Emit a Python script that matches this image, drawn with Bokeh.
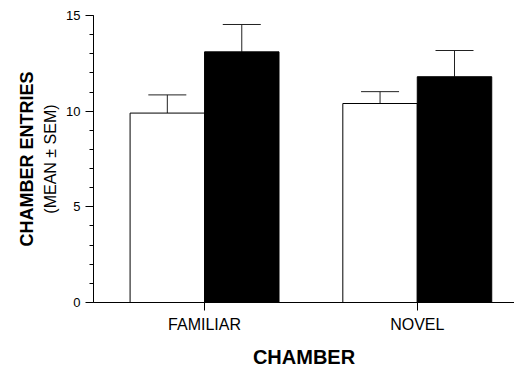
from bokeh.plotting import figure
from bokeh.models import (Range1d, SingleIntervalTicker, FixedTicker, LinearAxis,
                          ColumnDataSource, Whisker, TeeHead)
from bokeh.embed import file_html
from bokeh.resources import INLINE

# ---- data ----
categories = ["FAMILIAR", "NOVEL"]
control_mean = [9.9, 10.4]
control_sem = [0.95, 0.62]
treated_mean = [13.1, 11.8]
treated_sem = [1.43, 1.37]

FONT = "Liberation Sans"
BAR_W = 0.35

pos = [i + 1 for i in range(len(categories))]

p = figure(width=514, height=371, output_backend="svg", toolbar_location=None,
           x_range=Range1d(0.478, 2.457), y_range=Range1d(0, 15),
           min_border_left=93, min_border_top=15, min_border_right=0,
           min_border_bottom=69)
p.outline_line_color = None
p.xgrid.visible = False
p.ygrid.visible = False
p.background_fill_color = "white"
p.border_fill_color = "white"

ctrl = ColumnDataSource(dict(
    x=[c - BAR_W / 2 for c in pos], top=control_mean,
    upper=[m + s for m, s in zip(control_mean, control_sem)]))
trt = ColumnDataSource(dict(
    x=[c + BAR_W / 2 for c in pos], top=treated_mean,
    upper=[m + s for m, s in zip(treated_mean, treated_sem)]))

p.vbar(x="x", top="top", bottom=0, width=BAR_W, source=ctrl,
       fill_color="white", line_color="black", line_width=1)
p.vbar(x="x", top="top", bottom=0, width=BAR_W, source=trt,
       fill_color="black", line_color="black", line_width=1)

for src in (ctrl, trt):
    w = Whisker(base="x", lower="top", upper="upper", source=src,
                dimension="height", line_color="#222222", line_width=1,
                upper_head=TeeHead(size=38, line_color="#222222", line_width=1),
                lower_head=None)
    p.add_layout(w)

# x axis
xa = p.xaxis[0]
xa.ticker = FixedTicker(ticks=pos)
xa.major_label_overrides = {c: n for c, n in zip(pos, categories)}
xa.major_tick_out = 8
xa.major_tick_in = 0
xa.major_tick_line_color = "black"
xa.major_tick_line_width = 1
xa.minor_tick_line_color = None
xa.major_label_standoff = 5
xa.major_label_text_font = FONT
xa.major_label_text_font_size = "16px"
xa.major_label_text_color = "black"
xa.axis_label = "CHAMBER"
xa.axis_label_text_font = FONT
xa.axis_label_text_font_size = "20px"
xa.axis_label_text_font_style = "bold"
xa.axis_label_text_color = "black"
xa.axis_label_standoff = 10
xa.axis_line_color = "black"

# y axis
ya = p.yaxis[0]
ya.ticker = SingleIntervalTicker(interval=5, num_minor_ticks=5)
ya.major_tick_out = 8
ya.major_tick_in = 0
ya.minor_tick_out = 4
ya.minor_tick_in = 0
ya.major_tick_line_color = "black"
ya.major_tick_line_width = 1
ya.minor_tick_line_color = "black"
ya.minor_tick_line_width = 1
ya.major_label_standoff = 5
ya.major_label_text_font = FONT
ya.major_label_text_font_size = "13px"
ya.major_label_text_color = "black"
ya.axis_line_color = "black"

# extra axes carrying the two-part y label
sub = LinearAxis(ticker=FixedTicker(ticks=[]), axis_line_color=None,
                 major_tick_line_color=None, minor_tick_line_color=None,
                 axis_label="(MEAN ± SEM)", axis_label_text_font=FONT,
                 axis_label_text_font_size="16px",
                 axis_label_text_font_style="normal",
                 axis_label_text_color="black", axis_label_standoff=5)
main = LinearAxis(ticker=FixedTicker(ticks=[]), axis_line_color=None,
                  major_tick_line_color=None, minor_tick_line_color=None,
                  axis_label="CHAMBER ENTRIES", axis_label_text_font=FONT,
                  axis_label_text_font_size="18px",
                  axis_label_text_font_style="bold",
                  axis_label_text_color="black", axis_label_standoff=2)
p.add_layout(sub, "left")
p.add_layout(main, "left")

open("out.html", "w").write(file_html(p, INLINE))
